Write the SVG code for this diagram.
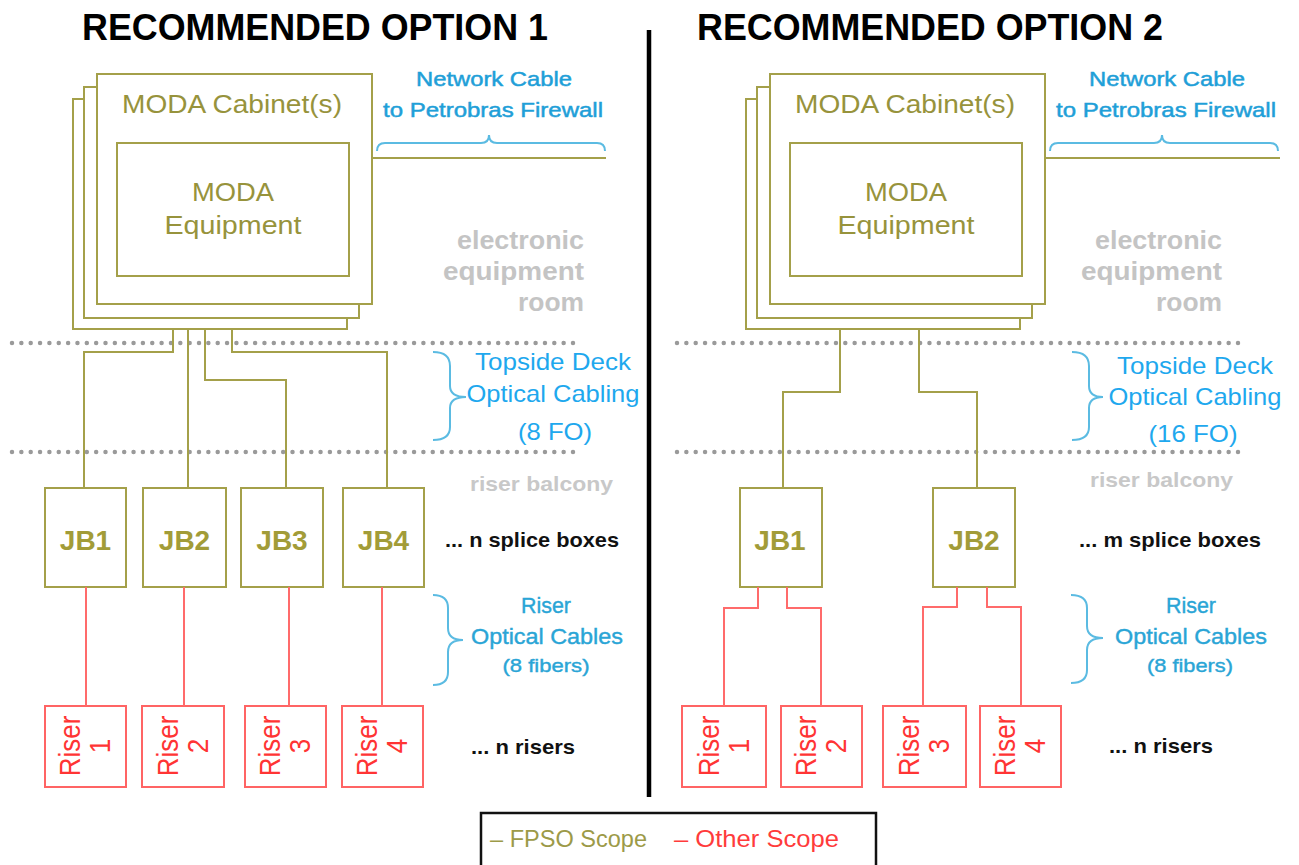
<svg xmlns="http://www.w3.org/2000/svg" width="1299" height="865" viewBox="0 0 1299 865">
<style>
text{font-family:"Liberation Sans",Arial,sans-serif}
.ol{fill:none;stroke:#a4a04a;stroke-width:2}
.rd{fill:none;stroke:#ff6b6b;stroke-width:2}
.bo{fill:#fff;stroke:#a4a04a;stroke-width:2}
.br{fill:#fff;stroke:#ff6464;stroke-width:2}
.dots{stroke:#9a9a9a;stroke-width:4.5;stroke-linecap:round;stroke-dasharray:0 9.35;fill:none}
.brace{fill:none;stroke:#5bbbe2;stroke-width:2}
.title{font-size:36px;font-weight:bold;fill:#000}
.moda{font-size:26px;fill:#97933c;text-anchor:middle}
.net{font-size:21px;fill:#1f9fd8;text-anchor:middle;stroke:#1f9fd8;stroke-width:0.5}
.room{font-size:26px;font-weight:bold;fill:#c4c4c4;text-anchor:end}
.top{font-size:24px;fill:#1ea8ee;text-anchor:middle}
.rob{font-size:22px;fill:#2aa5d6;text-anchor:middle;stroke:#2aa5d6;stroke-width:0.4}
.bal{font-size:21px;font-weight:bold;fill:#c8c8c8}
.jb{font-size:28px;font-weight:bold;fill:#a29c38;text-anchor:middle}
.note{font-size:21px;font-weight:bold;fill:#111}
.rl{font-size:26px;fill:#ff3434;text-anchor:middle}
.leg{font-size:24px}
</style>

<g id="titles">
<text class="title" x="82" y="40" textLength="466" lengthAdjust="spacingAndGlyphs">RECOMMENDED OPTION 1</text>
<text class="title" x="697" y="40" textLength="466" lengthAdjust="spacingAndGlyphs">RECOMMENDED OPTION 2</text>
</g>
<line id="divider" x1="649" y1="30" x2="649" y2="797" stroke="#000" stroke-width="4.5"/>

<g id="levels">
<line class="dots" x1="12" y1="343" x2="579" y2="343"/>
<line class="dots" x1="12" y1="452" x2="579" y2="452"/>
<line class="dots" x1="677" y1="343" x2="1240" y2="343"/>
<line class="dots" x1="677" y1="452" x2="1240" y2="452"/>
</g>

<!-- Option 1 -->
<g id="cabinet1">
<rect class="bo" x="73" y="99" width="274" height="230"/>
<rect class="bo" x="84" y="87" width="275" height="231"/>
<rect class="bo" x="97" y="74" width="275" height="230"/>
<text class="moda" x="232" y="113" textLength="220" lengthAdjust="spacingAndGlyphs">MODA Cabinet(s)</text>
</g>
<g id="equipment1">
<rect class="bo" x="117" y="143" width="232" height="133"/>
<text class="moda" x="233" y="201" textLength="82" lengthAdjust="spacingAndGlyphs">MODA</text>
<text class="moda" x="233" y="234" textLength="137" lengthAdjust="spacingAndGlyphs">Equipment</text>
</g>
<g id="netlabel1">
<text class="net" x="494" y="86" textLength="156" lengthAdjust="spacingAndGlyphs">Network Cable</text>
<text class="net" x="493" y="117" textLength="220" lengthAdjust="spacingAndGlyphs">to Petrobras Firewall</text>
<path class="brace" d="M377,151 Q377,143 385,143 L481,143 Q489,143 489,135 Q489,143 497,143 L597,143 Q605,143 605,151"/>
</g>
<g id="room1">
<text class="room" x="584" y="249" textLength="127" lengthAdjust="spacingAndGlyphs">electronic</text>
<text class="room" x="584" y="280" textLength="141" lengthAdjust="spacingAndGlyphs">equipment</text>
<text class="room" x="584" y="311" textLength="66" lengthAdjust="spacingAndGlyphs">room</text>
</g>
<g id="topside1">
<path class="brace" d="M433,352 Q450,352 450,366 L450,386 Q450,397 466,397 Q450,397 450,408 L450,427 Q450,440 433,440"/>
<text class="top" x="553" y="370" textLength="156" lengthAdjust="spacingAndGlyphs">Topside Deck</text>
<text class="top" x="553" y="402" textLength="173" lengthAdjust="spacingAndGlyphs">Optical Cabling</text>
<text class="top" x="555" y="440" textLength="74" lengthAdjust="spacingAndGlyphs">(8 FO)</text>
</g>
<text id="balcony1" class="bal" x="470" y="491" textLength="143" lengthAdjust="spacingAndGlyphs">riser balcony</text>
<g id="jb1-1"><rect class="bo" x="45" y="488" width="81" height="99"/><text class="jb" x="85.5" y="550">JB1</text></g>
<g id="jb1-2"><rect class="bo" x="143" y="488" width="83" height="99"/><text class="jb" x="184.5" y="550">JB2</text></g>
<g id="jb1-3"><rect class="bo" x="241" y="488" width="82" height="99"/><text class="jb" x="282" y="550">JB3</text></g>
<g id="jb1-4"><rect class="bo" x="343" y="488" width="81" height="99"/><text class="jb" x="383.5" y="550">JB4</text></g>
<text id="splice1" class="note" x="445" y="547" textLength="174" lengthAdjust="spacingAndGlyphs">... n splice boxes</text>
<g id="riserlabel1">
<path class="brace" d="M433,595 Q448,595 448,608 L448,628 Q448,640 463,640 Q448,640 448,652 L448,672 Q448,685 433,685"/>
<text class="rob" x="546" y="613" textLength="50" lengthAdjust="spacingAndGlyphs">Riser</text>
<text class="rob" x="547" y="644" textLength="152" lengthAdjust="spacingAndGlyphs">Optical Cables</text>
<text class="rob" x="546" y="672" textLength="87" lengthAdjust="spacingAndGlyphs" style="font-size:19px">(8 fibers)</text>
</g>
<g id="riser1-1"><rect class="br" x="45" y="706" width="81" height="81"/><g transform="translate(85.5,746) scale(1.1,1) rotate(-90)"><text class="rl" y="-5">Riser</text><text class="rl" y="22.5">1</text></g></g>
<g id="riser1-2"><rect class="br" x="142" y="706" width="82" height="81"/><g transform="translate(183,746) scale(1.1,1) rotate(-90)"><text class="rl" y="-5">Riser</text><text class="rl" y="22.5">2</text></g></g>
<g id="riser1-3"><rect class="br" x="245" y="706" width="81" height="81"/><g transform="translate(285.5,746) scale(1.1,1) rotate(-90)"><text class="rl" y="-5">Riser</text><text class="rl" y="22.5">3</text></g></g>
<g id="riser1-4"><rect class="br" x="342" y="706" width="81" height="81"/><g transform="translate(382.5,746) scale(1.1,1) rotate(-90)"><text class="rl" y="-5">Riser</text><text class="rl" y="22.5">4</text></g></g>
<text id="risers1" class="note" x="471" y="754" textLength="104" lengthAdjust="spacingAndGlyphs">... n risers</text>

<!-- Option 2 -->
<g id="cabinet2">
<rect class="bo" x="746" y="99" width="274" height="230"/>
<rect class="bo" x="757" y="87" width="275" height="231"/>
<rect class="bo" x="770" y="74" width="275" height="230"/>
<text class="moda" x="905" y="113" textLength="220" lengthAdjust="spacingAndGlyphs">MODA Cabinet(s)</text>
</g>
<g id="equipment2">
<rect class="bo" x="790" y="143" width="232" height="133"/>
<text class="moda" x="906" y="201" textLength="82" lengthAdjust="spacingAndGlyphs">MODA</text>
<text class="moda" x="906" y="234" textLength="137" lengthAdjust="spacingAndGlyphs">Equipment</text>
</g>
<g id="netlabel2">
<text class="net" x="1167" y="86" textLength="156" lengthAdjust="spacingAndGlyphs">Network Cable</text>
<text class="net" x="1166" y="117" textLength="220" lengthAdjust="spacingAndGlyphs">to Petrobras Firewall</text>
<path class="brace" d="M1050,151 Q1050,143 1058,143 L1154,143 Q1162,143 1162,135 Q1162,143 1170,143 L1270,143 Q1278,143 1278,151"/>
</g>
<g id="room2">
<text class="room" x="1222" y="249" textLength="127" lengthAdjust="spacingAndGlyphs">electronic</text>
<text class="room" x="1222" y="280" textLength="141" lengthAdjust="spacingAndGlyphs">equipment</text>
<text class="room" x="1222" y="311" textLength="66" lengthAdjust="spacingAndGlyphs">room</text>
</g>
<g id="topside2">
<path class="brace" d="M1072,352 Q1089,352 1089,366 L1089,386 Q1089,397 1103,397 Q1089,397 1089,408 L1089,427 Q1089,440 1072,440"/>
<text class="top" x="1195" y="374" textLength="156" lengthAdjust="spacingAndGlyphs">Topside Deck</text>
<text class="top" x="1195" y="405" textLength="173" lengthAdjust="spacingAndGlyphs">Optical Cabling</text>
<text class="top" x="1193" y="442" textLength="89" lengthAdjust="spacingAndGlyphs">(16 FO)</text>
</g>
<text id="balcony2" class="bal" x="1090" y="487" textLength="143" lengthAdjust="spacingAndGlyphs">riser balcony</text>
<g id="jb2-1"><rect class="bo" x="740" y="488" width="82" height="99"/><text class="jb" x="780" y="550">JB1</text></g>
<g id="jb2-2"><rect class="bo" x="933" y="488" width="82" height="99"/><text class="jb" x="974" y="550">JB2</text></g>
<text id="splice2" class="note" x="1079" y="547" textLength="182" lengthAdjust="spacingAndGlyphs">... m splice boxes</text>
<g id="riserlabel2">
<path class="brace" d="M1071,595 Q1087,595 1087,608 L1087,626 Q1087,638 1103,638 Q1087,638 1087,650 L1087,670 Q1087,683 1071,683"/>
<text class="rob" x="1191" y="613" textLength="50" lengthAdjust="spacingAndGlyphs">Riser</text>
<text class="rob" x="1191" y="644" textLength="152" lengthAdjust="spacingAndGlyphs">Optical Cables</text>
<text class="rob" x="1190" y="672" textLength="86" lengthAdjust="spacingAndGlyphs" style="font-size:19px">(8 fibers)</text>
</g>
<g id="riser2-1"><rect class="br" x="682" y="706" width="84" height="81"/><g transform="translate(724,746) scale(1.1,1) rotate(-90)"><text class="rl" y="-5">Riser</text><text class="rl" y="22.5">1</text></g></g>
<g id="riser2-2"><rect class="br" x="781" y="706" width="81" height="81"/><g transform="translate(821.5,746) scale(1.1,1) rotate(-90)"><text class="rl" y="-5">Riser</text><text class="rl" y="22.5">2</text></g></g>
<g id="riser2-3"><rect class="br" x="883" y="706" width="83" height="81"/><g transform="translate(924.5,746) scale(1.1,1) rotate(-90)"><text class="rl" y="-5">Riser</text><text class="rl" y="22.5">3</text></g></g>
<g id="riser2-4"><rect class="br" x="980" y="706" width="81" height="81"/><g transform="translate(1020.5,746) scale(1.1,1) rotate(-90)"><text class="rl" y="-5">Riser</text><text class="rl" y="22.5">4</text></g></g>
<text id="risers2" class="note" x="1109" y="753" textLength="104" lengthAdjust="spacingAndGlyphs">... n risers</text>

<g id="connectors">
<path class="ol" d="M372,158 H606"/>
<path class="ol" d="M1045,158 H1280"/>
<path class="ol" d="M173,329 V352 H84 V488"/>
<path class="ol" d="M188,329 V488"/>
<path class="ol" d="M205,329 V380 H286 V488"/>
<path class="ol" d="M232,329 V352 H387 V488"/>
<path class="ol" d="M840,329 V392 H783 V488"/>
<path class="ol" d="M919,329 V392 H977 V488"/>
<path class="rd" d="M86,587 V706"/>
<path class="rd" d="M184,587 V706"/>
<path class="rd" d="M289,587 V706"/>
<path class="rd" d="M382,587 V706"/>
<path class="rd" d="M758,587 V608 H724 V706"/>
<path class="rd" d="M787,587 V608 H821 V706"/>
<path class="rd" d="M957,587 V607 H923 V706"/>
<path class="rd" d="M987,587 V607 H1021 V706"/>
</g>

<g id="legend">
<rect x="481" y="813" width="395" height="60" fill="none" stroke="#111" stroke-width="2.5"/>
<text class="leg" x="490" y="847" fill="#9c9a48" textLength="157" lengthAdjust="spacingAndGlyphs">– FPSO Scope</text>
<text class="leg" x="674" y="847" fill="#ff3b3b" textLength="165" lengthAdjust="spacingAndGlyphs">– Other Scope</text>
</g>
</svg>
